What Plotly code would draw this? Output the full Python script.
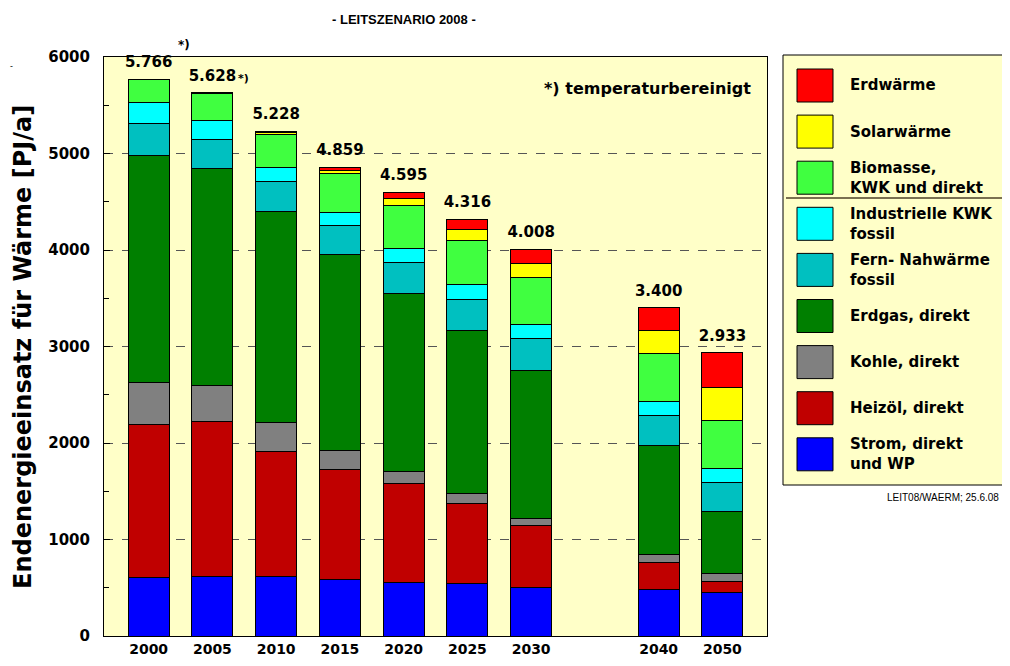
import plotly.graph_objects as go

# Leitszenario 2008 - Endenergieeinsatz für Wärme [PJ/a]
jahre = ["2000", "2005", "2010", "2015", "2020", "2025", "2030", "2040", "2050"]
achse = ["2000", "2005", "2010", "2015", "2020", "2025", "2030", " ", "2040", "2050"]

strom = [603, 620, 620, 585, 556, 544, 505, 480, 450]
heizoel = [1586, 1606, 1293, 1141, 1020, 832, 638, 278, 118]
kohle = [441, 374, 301, 197, 131, 100, 76, 83, 80]
erdgas = [2354, 2240, 2184, 2027, 1847, 1688, 1533, 1132, 639]
fernwaerme = [328, 305, 311, 304, 316, 328, 329, 307, 299]
ind_kwk = [220, 200, 141, 139, 145, 148, 147, 148, 152]
biomasse = [234, 275, 350, 397, 450, 460, 482, 500, 497]
solar = [0, 8, 22, 37, 65, 110, 148, 236, 340]
erdwaerme = [0, 0, 6, 32, 65, 106, 150, 236, 358]

# von unten nach oben
serien = [
    ("Strom, direkt<br>und WP", strom, "#0000FF"),
    ("Heizöl, direkt", heizoel, "#C00000"),
    ("Kohle, direkt", kohle, "#808080"),
    ("Erdgas, direkt", erdgas, "#007F00"),
    ("Fern- Nahwärme<br>fossil", fernwaerme, "#00C0C0"),
    ("Industrielle KWK<br>fossil", ind_kwk, "#00FFFF"),
    ("Biomasse,<br>KWK und direkt", biomasse, "#40FF40"),
    ("Solarwärme", solar, "#FFFF00"),
    ("Erdwärme", erdwaerme, "#FF0000"),
]

FONT = "DejaVu Sans, Arial"
ARIAL = "Liberation Sans, Arial"
BG = "#FFFFC8"

# Plotbereich in Pixeln der Vorlage; die Seite hat 8px Rand
L, R, T, B = 104, 767, 57, 636
OFF = 8
W, H = 1010 - 2 * OFF, 666 - 2 * OFF


def px(x):
    return (x - L) / (R - L)


def py(y):
    return (B - y) / (B - T)


fig = go.Figure()
for name, werte, farbe in serien:
    fig.add_trace(go.Bar(
        x=jahre, y=werte, name=name, width=0.64,
        marker=dict(color=farbe, line=dict(color="black", width=1)),
        showlegend=False,
    ))

# Summen über den Balken
summen = [sum(s[1][i] for s in serien) for i in range(len(jahre))]
fig.add_trace(go.Scatter(
    x=jahre, y=summen, mode="markers+text",
    text=[f"{s:,}".replace(",", ".") for s in summen],
    marker=dict(size=12, color="rgba(0,0,0,0)"),
    textposition="top center", cliponaxis=False, showlegend=False,
    hoverinfo="skip",
    textfont=dict(family=FONT, size=15, color="black", weight="bold"),
))

annotations = []


def pann(x, y, text, size, anchor="center", color="black", bold=True,
         family=FONT, **kw):
    annotations.append(dict(
        x=px(x), y=py(y), xref="paper", yref="paper", text=text,
        showarrow=False, xanchor=anchor, yanchor="middle",
        font=dict(family=family, size=size, color=color,
                  weight="bold" if bold else "normal"), **kw))


pann(404, 20, "- LEITSZENARIO 2008 -", 13, family=ARIAL)
pann(184, 45, "*)", 12)
pann(236, 78, "*)", 11, anchor="left")
pann(647, 88, "*) temperaturbereinigt", 16)
pann(23, 347, "Endenergieeinsatz für Wärme [PJ/a]", 24, textangle=-90)
pann(11, 66, "-", 8, bold=False)
pann(1001, 497, "LEIT08/WAERM; 25.6.08", 10, anchor="right", bold=False,
     family=ARIAL)

# Legende als Kasten rechts
shapes = [
    dict(type="rect", xref="paper", yref="paper", x0=px(783), x1=px(1014),
         y0=py(485), y1=py(55), fillcolor=BG, line=dict(color="black", width=1),
         layer="below"),
    dict(type="line", xref="paper", yref="paper", x0=px(786), x1=px(1012),
         y0=py(198), y1=py(198), line=dict(color="#7A7050", width=2)),
]
for i, (name, werte, farbe) in enumerate(reversed(serien)):
    yc = 85.5 + i * 46.1
    shapes.append(dict(type="rect", xref="paper", yref="paper",
                       x0=px(797), x1=px(833), y0=py(yc + 16.5), y1=py(yc - 16.5),
                       fillcolor=farbe, line=dict(color="black", width=1)))
    pann(848, yc, name, 15, anchor="left", align="left")

fig.update_layout(
    template="none",
    width=W, height=H,
    margin=dict(l=L - OFF, r=W + OFF - R, t=T - OFF, b=H + OFF - B, pad=0),
    paper_bgcolor="white", plot_bgcolor=BG,
    barmode="stack", bargap=0.36,
    font=dict(family=FONT, size=15, color="black", weight="bold"),
    annotations=annotations, shapes=shapes,
    xaxis=dict(
        type="category", categoryorder="array", categoryarray=achse,
        range=[-0.7, 9.7], showline=True, linecolor="black", linewidth=1,
        mirror=True, ticks="", showgrid=False, zeroline=False,
        automargin=False, ticklabelstandoff=0,
        tickfont=dict(family=FONT, size=14, weight="bold"),
    ),
    yaxis=dict(
        range=[0, 6000], dtick=1000, showline=True, linecolor="black",
        linewidth=1, mirror=True, ticks="inside", ticklen=6, tickcolor="black",
        showgrid=True, gridcolor="#555555", griddash="dash", gridwidth=1,
        zeroline=False, automargin=False, ticklabelstandoff=10,
        tickfont=dict(family=FONT, size=15, weight="bold"),
        minor=dict(dtick=500, ticks="inside", ticklen=5, tickcolor="black",
                   showgrid=False),
    ),
)

fig.write_html("out.html")
